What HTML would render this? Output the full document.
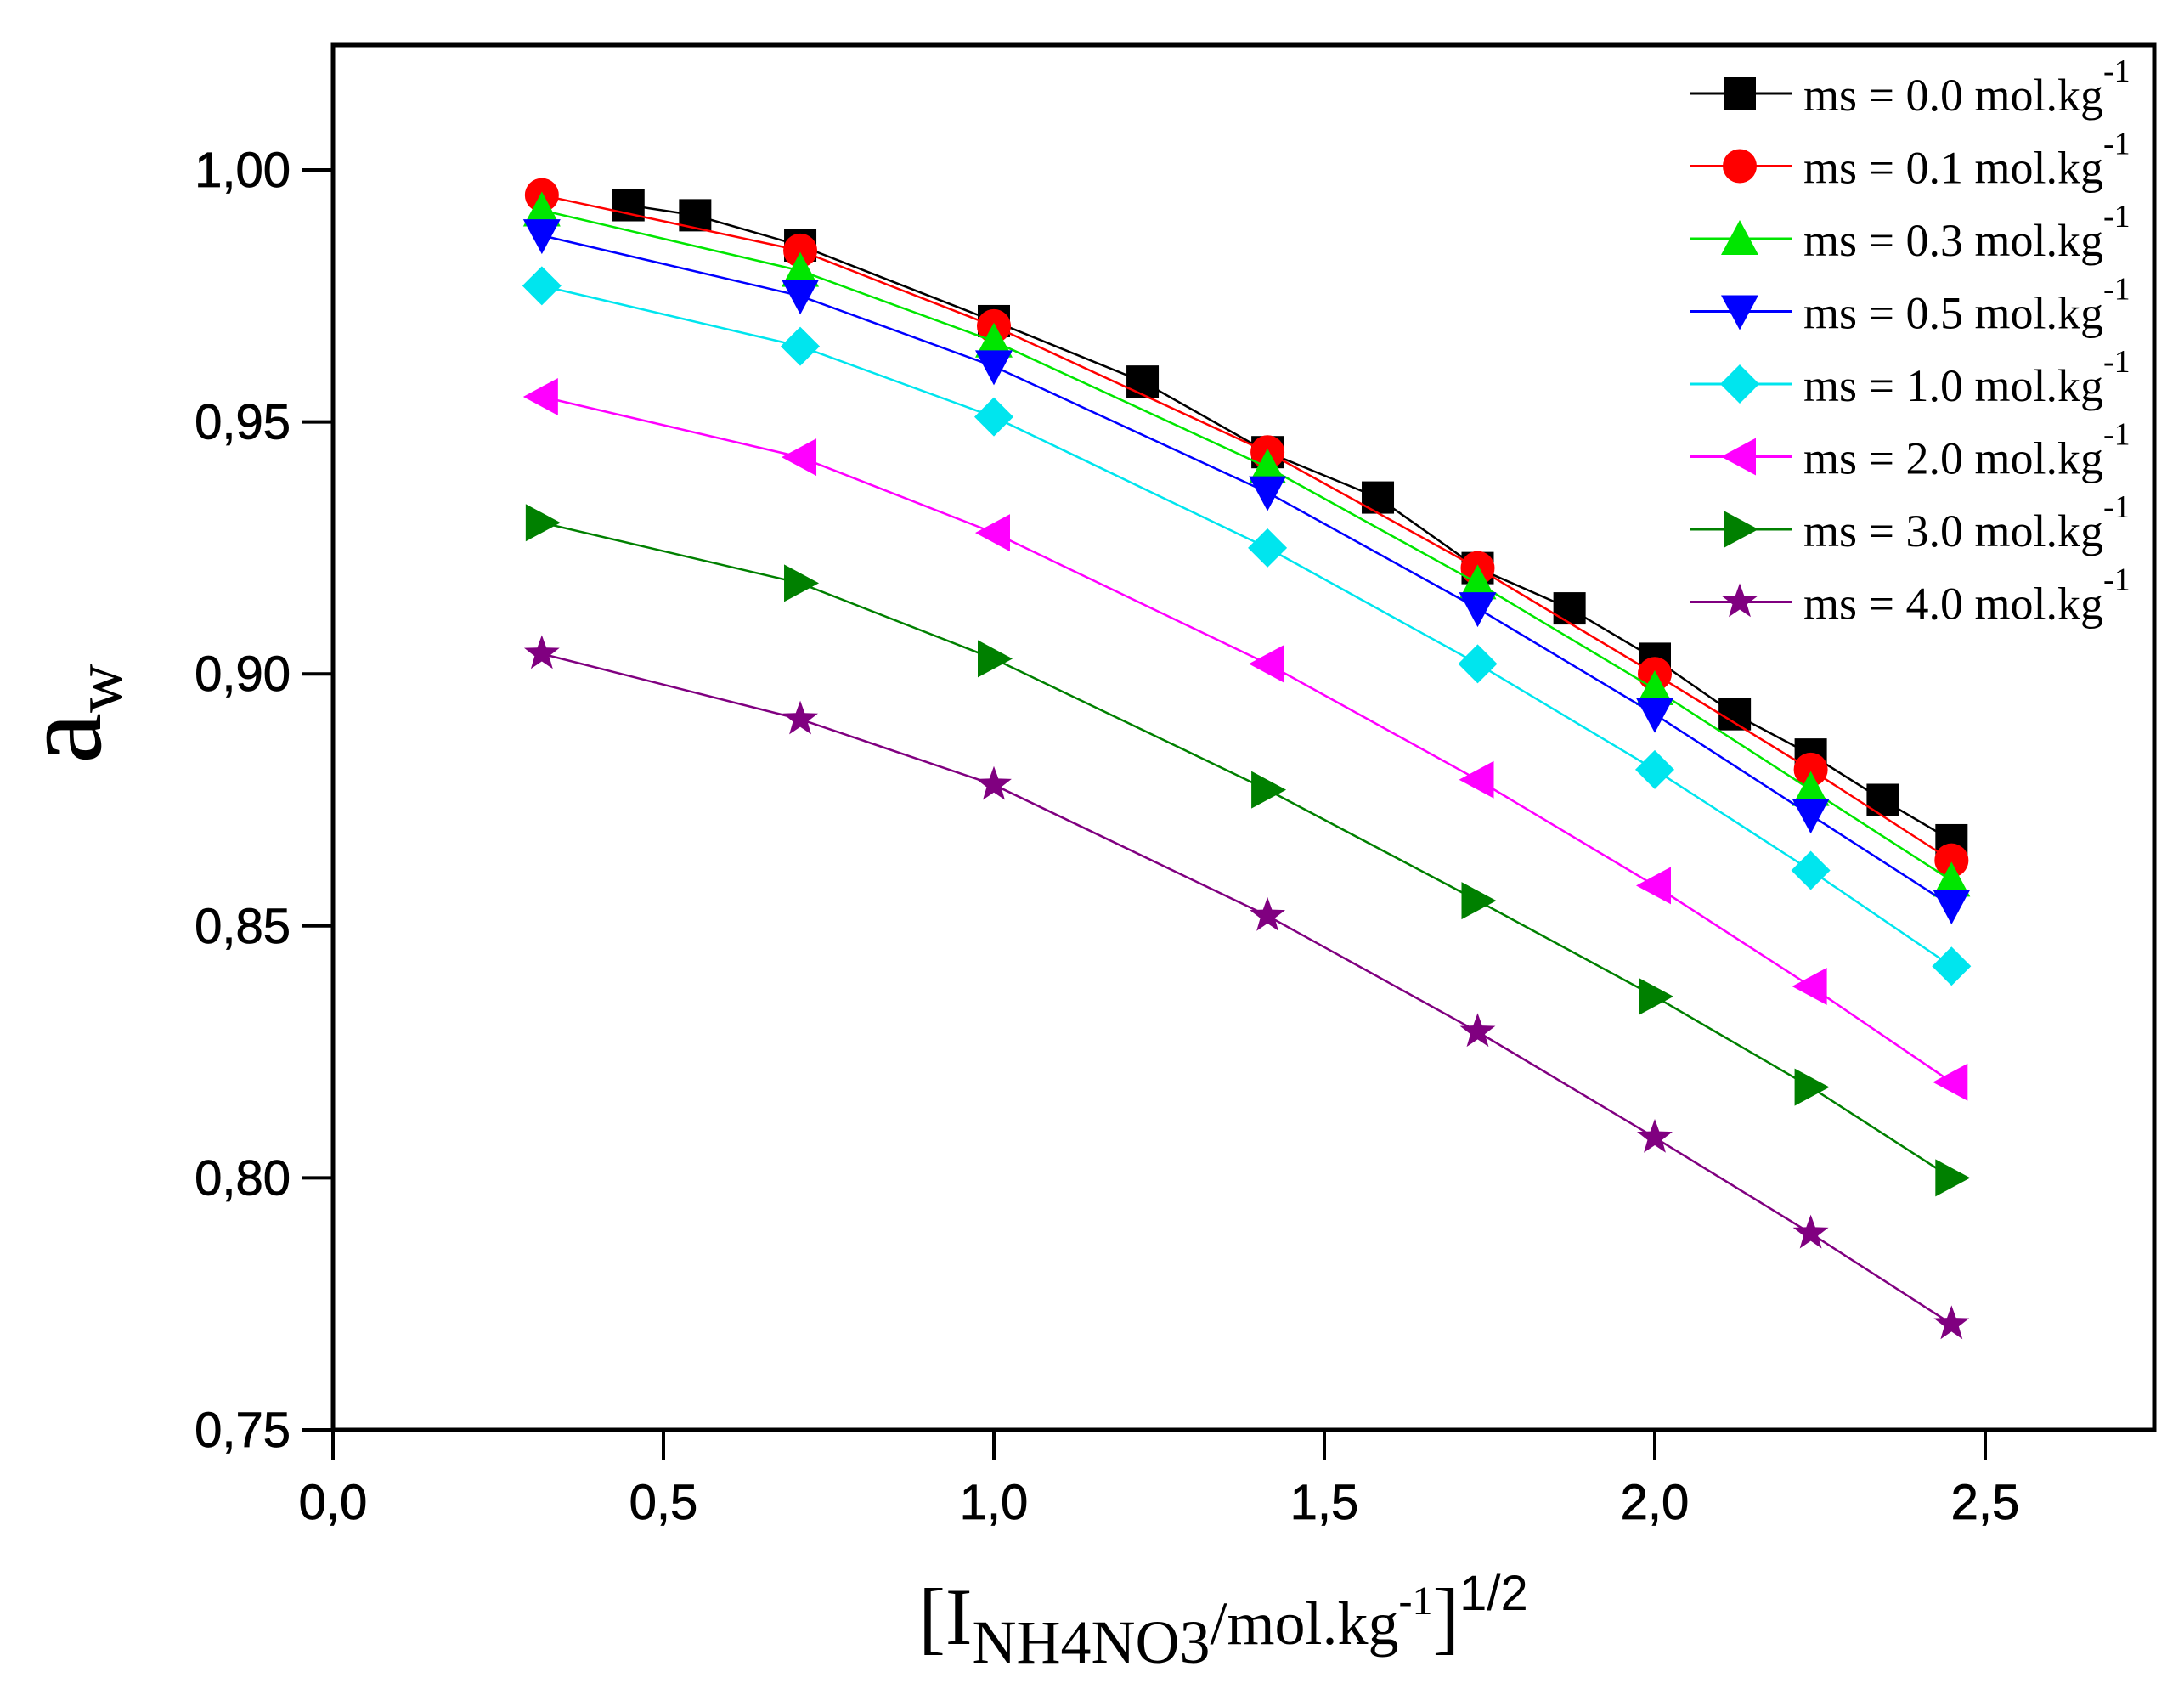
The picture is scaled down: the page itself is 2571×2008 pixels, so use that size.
<!DOCTYPE html>
<html><head><meta charset="utf-8"><style>
html,body{margin:0;padding:0;background:#fff;}
svg{display:block;}
.tick{font-family:"Liberation Sans Narrow","Liberation Sans",sans-serif;font-size:58px;fill:#000;stroke:#000;stroke-width:0.8px;}
.serif{font-family:"Liberation Serif",serif;fill:#000;}
</style></head><body>
<svg id="chart" width="2571" height="2008" viewBox="0 0 2571 2008" xmlns="http://www.w3.org/2000/svg">
<rect x="0" y="0" width="2571" height="2008" fill="#fff"/>
<g id="plot"></g>
<g id="axes"></g>
<g id="legend"></g>
<text class="serif" transform="translate(118,840) rotate(-90)" text-anchor="middle" font-size="135">a<tspan font-size="80" dy="25">w</tspan></text>
<text class="serif" x="1440" y="1935" text-anchor="middle" font-size="95">[I<tspan font-size="72" dy="22">NH4NO3</tspan><tspan font-size="72" dy="-22">/mol.kg</tspan><tspan font-size="48" dy="-35">-1</tspan><tspan dy="35">]</tspan><tspan font-family="Liberation Sans Narrow, Liberation Sans, sans-serif" font-size="58" dy="-40">1/2</tspan></text>
</svg>
<script>
const xTicks = [0.0, 0.5, 1.0, 1.5, 2.0, 2.5];
const xTickLabels = ["0,0","0,5","1,0","1,5","2,0","2,5"];
const yTicks = [0.75, 0.80, 0.85, 0.90, 0.95, 1.00];
const yTickLabels = ["0,75","0,80","0,85","0,90","0,95","1,00"];
const xBlack = [0.447, 0.548, 0.707, 1.0, 1.225, 1.414, 1.581, 1.732, 1.871, 2.0, 2.121, 2.236, 2.345, 2.449];
const yBlack = [0.993, 0.991, 0.985, 0.970, 0.958, 0.944, 0.935, 0.921, 0.913, 0.903, 0.892, 0.884, 0.875, 0.867];
const xCommon = [0.316, 0.707, 1.0, 1.414, 1.732, 2.0, 2.236, 2.449];
const yRed = [0.995, 0.984, 0.969, 0.944, 0.921, 0.900, 0.881, 0.863];
const yGreen = [0.992, 0.980, 0.966, 0.941, 0.918, 0.897, 0.877, 0.859];
const yBlue = [0.987, 0.975, 0.961, 0.936, 0.913, 0.892, 0.872, 0.854];
const yCyan = [0.977, 0.965, 0.951, 0.925, 0.902, 0.881, 0.861, 0.842];
const yMagenta = [0.955, 0.943, 0.928, 0.902, 0.879, 0.858, 0.838, 0.819];
const yDarkGreen = [0.930, 0.918, 0.903, 0.877, 0.855, 0.836, 0.818, 0.800];
const yPurple = [0.904, 0.891, 0.878, 0.852, 0.829, 0.808, 0.789, 0.771];
const legendLabels = ["0.0","0.1","0.3","0.5","1.0","2.0","3.0","4.0"];

const NS = "http://www.w3.org/2000/svg";
const L = 392, R = 2536, T = 53, B = 1683;
function sx(v){ return 392 + v * 778; }
function sy(v){ return 200 + (1.0 - v) * 5932; }
function mk(tag, attrs, parent){ const e = document.createElementNS(NS, tag); for (const k in attrs) e.setAttribute(k, attrs[k]); parent.appendChild(e); return e; }

const series = [
  {xs:xBlack, ys:yBlack, color:"#000000", shape:"square", name:"series-ms-0-0"},
  {xs:xCommon, ys:yRed, color:"#ff0000", shape:"circle", name:"series-ms-0-1"},
  {xs:xCommon, ys:yGreen, color:"#00e600", shape:"up", name:"series-ms-0-3"},
  {xs:xCommon, ys:yBlue, color:"#0000ff", shape:"down", name:"series-ms-0-5"},
  {xs:xCommon, ys:yCyan, color:"#00e5ee", shape:"diamond", name:"series-ms-1-0"},
  {xs:xCommon, ys:yMagenta, color:"#ff00ff", shape:"left", name:"series-ms-2-0"},
  {xs:xCommon, ys:yDarkGreen, color:"#008000", shape:"right", name:"series-ms-3-0"},
  {xs:xCommon, ys:yPurple, color:"#800080", shape:"star", name:"series-ms-4-0"}
];

function marker(shape, x, y, color, parent){
  const s = 19;
  let el;
  if (shape === "square") el = mk("rect", {x:x-s, y:y-s, width:2*s, height:2*s, fill:color}, parent);
  else if (shape === "circle") el = mk("circle", {cx:x, cy:y, r:s+1, fill:color}, parent);
  else {
    let pts;
    if (shape === "up") pts = [[x,y-s-3],[x+s+3,y+s],[x-s-3,y+s]];
    else if (shape === "down") pts = [[x,y+s+3],[x+s+3,y-s],[x-s-3,y-s]];
    else if (shape === "left") pts = [[x-s-3,y],[x+s,y-s-3],[x+s,y+s+3]];
    else if (shape === "right") pts = [[x+s+3,y],[x-s,y-s-3],[x-s,y+s+3]];
    else if (shape === "diamond") pts = [[x,y-s-4],[x+s+4,y],[x,y+s+4],[x-s-4,y]];
    else { pts = []; for (let i=0;i<10;i++){ const a = -Math.PI/2 + i*Math.PI/5; const r = i%2 ? 9 : 22; pts.push([x+r*Math.cos(a), y+r*Math.sin(a)]); } }
    el = mk("polygon", {points: pts.map(p=>p.join(",")).join(" "), fill:color}, parent);
  }
  return el;
}

const plot = document.getElementById("plot");
series.forEach((s) => {
  const g = mk("g", {}, plot);
  
  
  const d = s.xs.map((v,i)=>(i?"L":"M")+sx(v).toFixed(1)+","+sy(s.ys[i]).toFixed(1)).join(" ");
  const line = mk("path", {d:d, fill:"none", stroke:s.color, "stroke-width":2.5}, g);
  
  
  s.xs.forEach((v,i)=>{
    const m = marker(s.shape, sx(v), sy(s.ys[i]), s.color, g);
    
    
  });
});

const axes = document.getElementById("axes");
const frame = mk("rect", {x:L, y:T, width:R-L, height:B-T, fill:"none", stroke:"#000", "stroke-width":5}, axes);


xTicks.forEach((v,i)=>{
  const t = mk("line", {x1:sx(v), x2:sx(v), y1:B, y2:B+36, stroke:"#000", "stroke-width":4}, axes);
  
  
  const lb = mk("text", {x:sx(v), y:B+105, "text-anchor":"middle", class:"tick"}, axes);
  lb.textContent = xTickLabels[i];
  
  
});
yTicks.forEach((v,i)=>{
  const t = mk("line", {x1:L-36, x2:L, y1:sy(v), y2:sy(v), stroke:"#000", "stroke-width":4}, axes);
  
  
  const lb = mk("text", {x:L-50, y:sy(v)+20, "text-anchor":"end", class:"tick"}, axes);
  lb.textContent = yTickLabels[i];
  
  
});

const legend = document.getElementById("legend");
series.forEach((s,i)=>{
  const y = 110 + i*85.5;
  const g = mk("g", {}, legend);
  
  
  mk("line", {x1:1989, x2:2109, y1:y, y2:y, stroke:s.color, "stroke-width":3}, g);
  marker(s.shape, 2048, y, s.color, g);
  const t = mk("text", {x:2123, y:y+20, class:"serif", "font-size":54}, g);
  t.textContent = "ms = " + legendLabels[i] + " mol.kg";
  const sup = mk("tspan", {"font-size":38, dy:-34}, t);
  sup.textContent = "-1";
});
</script>
</body></html>
